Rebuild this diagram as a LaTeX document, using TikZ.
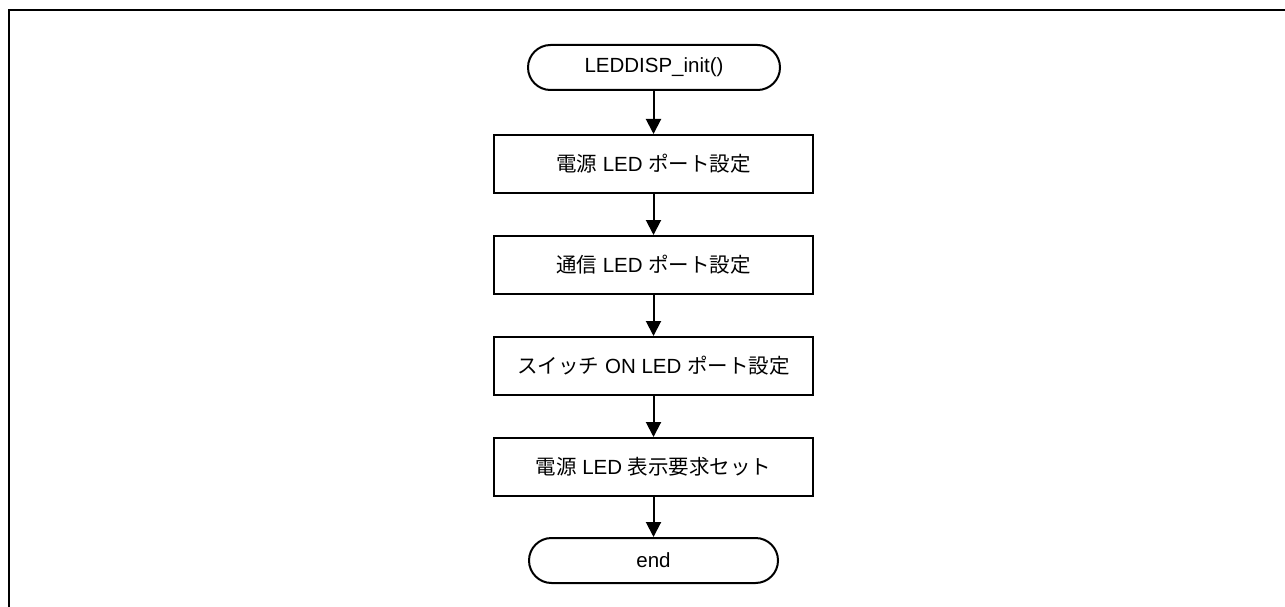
\documentclass[tikz,border=0pt]{standalone}
\usepackage{fontspec}
\setmainfont{Liberation Sans}
\newfontfamily\cjk{Noto Sans CJK JP}
\usetikzlibrary{arrows.meta}
\begin{document}
\begin{tikzpicture}[x=1pt,y=-1pt,
  every node/.style={font=\fontsize{20.5}{24}\selectfont, line width=2pt, inner sep=0pt},
  term/.style={draw, rounded corners=22.5pt, minimum height=45pt},
  proc/.style={draw, minimum width=319pt, minimum height=58pt},
  arr/.style={line width=2pt, -{Triangle[width=15pt,length=15pt]}}]
\useasboundingbox (0,0) rectangle (1285,607);
\draw[line width=2pt] (9,608) -- (9,10) -- (1286,10);
\node[term, minimum width=252pt] (s) at (654,67.5) {LEDDISP\_init()};
\node[proc] (b1) at (653.5,164) {{\cjk 電源} LED {\cjk ポート設定}};
\node[proc] (b2) at (653.5,265) {{\cjk 通信} LED {\cjk ポート設定}};
\node[proc] (b3) at (653.5,366) {{\cjk スイッチ} ON LED {\cjk ポート設定}};
\node[proc] (b4) at (653.5,467) {{\cjk 電源} LED {\cjk 表示要求セット}};
\node[term, minimum width=249pt] (e) at (653.5,560.5) {end};
\draw[arr] (s.south -| b1.north) -- (b1.north);
\draw[arr] (b1) -- (b2);
\draw[arr] (b2) -- (b3);
\draw[arr] (b3) -- (b4);
\draw[arr] (b4) -- (e);
\end{tikzpicture}
\end{document}
